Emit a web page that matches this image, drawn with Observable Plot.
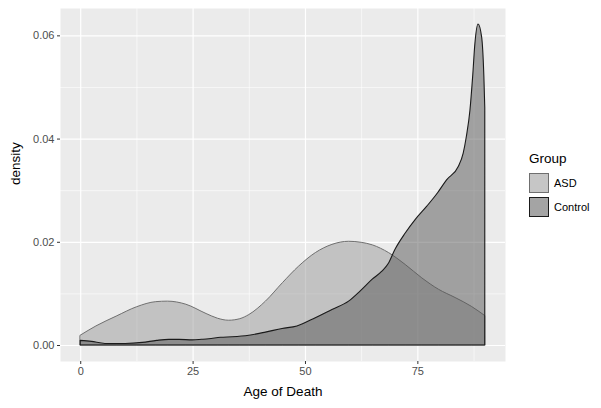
<!DOCTYPE html>
<html>
<head>
<meta charset="utf-8">
<script src="https://cdn.jsdelivr.net/npm/d3@7"></script>
<script src="https://cdn.jsdelivr.net/npm/@observablehq/plot@0.6"></script>
<style>
  html, body { margin: 0; padding: 0; background: #fff; }
  #wrap { position: relative; width: 601px; height: 408px; font-family: "Liberation Sans", Arial, Helvetica, sans-serif; }
  #legend { position: absolute; left: 529px; top: 150px; }
  .ltitle { font-size: 13.5px; color: #000; height: 21px; line-height: 18px; }
  .lrow { display: flex; align-items: center; height: 24px; }
  .lkey { width: 20px; height: 20px; box-sizing: border-box; background: #F2F2F2; position: relative; }
  .lkey span { position: absolute; inset: 0; }
  .llab { font-size: 11px; color: #000; margin-left: 5px; }
</style>
</head>
<body>
<div id="wrap"></div>
<script>
// ---- data ----
const groups = ["ASD", "Control"];
const asdAge = [0, 3.5, 8, 12.5, 16.8, 19.4, 23.5, 28, 30.5, 33, 35.5, 37.5, 41.2, 45, 48.6, 52.3, 56, 59.7, 62.5, 65, 68.6, 72.3, 76, 79.7, 83.4, 87, 90];
const asdDensity = [0.0019, 0.0037, 0.0056, 0.0074, 0.0084, 0.0085, 0.0079, 0.0061, 0.0052, 0.0048, 0.0051, 0.0059, 0.0085, 0.0121, 0.0153, 0.0179, 0.0195, 0.0201, 0.0199, 0.0194, 0.0179, 0.0156, 0.0130, 0.0108, 0.0092, 0.0075, 0.0057];
const controlAge = [0, 2.5, 5.5, 10, 13.8, 17, 19.7, 22, 24.9, 27, 28.6, 31.2, 33.8, 37.5, 41.2, 44.9, 48.2, 52.3, 56, 59.7, 62.3, 64.9, 67.1, 68.6, 70, 72.3, 74.5, 77.1, 79.5, 81.5, 84.1, 85.2, 85.9, 86.7, 87.3, 87.8, 88.5, 89.3, 89.8, 90];
const controlDensity = [0.0009, 0.0007, 0.0003, 0.0003, 0.0005, 0.0009, 0.0011, 0.0011, 0.0010, 0.0011, 0.0012, 0.0015, 0.0016, 0.0019, 0.0025, 0.0032, 0.0037, 0.0053, 0.0069, 0.0085, 0.0105, 0.0127, 0.0143, 0.0159, 0.0185, 0.0217, 0.0243, 0.0269, 0.0295, 0.0320, 0.0346, 0.0372, 0.0404, 0.0455, 0.0520, 0.0584, 0.0622, 0.0597, 0.0520, 0.0460];
const xTicks = [0, 25, 50, 75];
const xMinor = [12.5, 37.5, 62.5, 87.5];
const yTicks = [0, 0.02, 0.04, 0.06];
const yMinor = [0.01, 0.03, 0.05];
const xTitle = "Age of Death";
const yTitle = "density";
const legendTitle = "Group";

// ---- styles ----
const fills = {ASD: "#999999", Control: "#555555"};
const strokes = {ASD: "#6f6f6f", Control: "#1a1a1a"};

const asdData = asdAge.map((a, i) => ({age: a, density: asdDensity[i]}));
const controlData = controlAge.map((a, i) => ({age: a, density: controlDensity[i]}));

const font = "'Liberation Sans', Arial, Helvetica, sans-serif";

const plot = Plot.plot({
  width: 601,
  height: 408,
  marginLeft: 60,
  marginRight: 96,
  marginTop: 8,
  marginBottom: 47,
  style: {fontFamily: font, background: "transparent", overflow: "visible"},
  x: {domain: [-4.5, 94.5], label: null},
  y: {domain: [-0.0031, 0.0653], label: null},
  marks: [
    Plot.frame({fill: "#EBEBEB", stroke: null}),
    Plot.ruleX(xMinor, {stroke: "white", strokeWidth: 0.6}),
    Plot.ruleY(yMinor, {stroke: "white", strokeWidth: 0.6}),
    Plot.ruleX(xTicks, {stroke: "white", strokeWidth: 1.2}),
    Plot.ruleY(yTicks, {stroke: "white", strokeWidth: 1.2}),
    Plot.areaY(asdData, {x: "age", y: "density", curve: "monotone-x", fill: fills.ASD, fillOpacity: 0.5, stroke: strokes.ASD, strokeWidth: 1}),
    Plot.areaY(controlData, {x: "age", y: "density", curve: "monotone-x", fill: fills.Control, fillOpacity: 0.5, stroke: strokes.Control, strokeWidth: 1.1}),
    Plot.axisX({ticks: xTicks, tickSize: 3, stroke: "#333333", text: null, label: null}),
    Plot.axisX({ticks: xTicks, tickSize: 0, tickPadding: 6, fill: "#4D4D4D", fontSize: 11, label: null}),
    Plot.axisY({ticks: yTicks, tickSize: 3, stroke: "#333333", text: null, label: null}),
    Plot.axisY({ticks: yTicks, tickSize: 0, tickPadding: 6, fill: "#4D4D4D", fontSize: 11, tickFormat: d3.format(".2f"), label: null}),
    Plot.text([xTitle], {frameAnchor: "bottom", dy: 30, fontSize: 13.5, fill: "black", lineAnchor: "middle"}),
    Plot.text([yTitle], {frameAnchor: "left", dx: -45, rotate: -90, fontSize: 13.5, fill: "black", lineAnchor: "middle"})
  ]
});

const wrap = document.getElementById("wrap");
wrap.appendChild(plot);

// legend
const legend = document.createElement("div");
legend.id = "legend";
const t = document.createElement("div");
t.className = "ltitle";
t.textContent = legendTitle;
legend.appendChild(t);
for (const g of groups) {
  const row = document.createElement("div");
  row.className = "lrow";
  const key = document.createElement("div");
  key.className = "lkey";
  const sw = document.createElement("span");
  sw.style.background = fills[g];
  sw.style.opacity = 1;
  sw.style.backgroundColor = fills[g] + "80";
  sw.style.border = "1px solid " + strokes[g];
  key.appendChild(sw);
  const lab = document.createElement("div");
  lab.className = "llab";
  lab.textContent = g;
  row.appendChild(key);
  row.appendChild(lab);
  legend.appendChild(row);
}
wrap.appendChild(legend);
</script>
</body>
</html>
